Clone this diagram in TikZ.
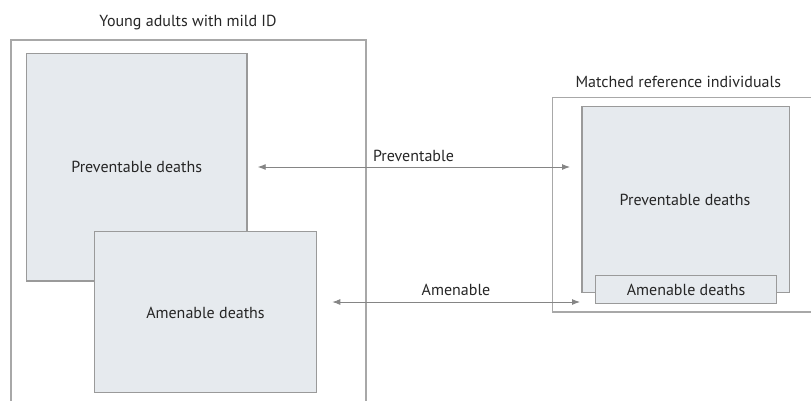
\documentclass[tikz,border=0pt]{standalone}
\usepackage{fontspec}
\setmainfont{PT Sans}
\usetikzlibrary{arrows.meta}
\definecolor{boxfill}{HTML}{E6EAEE}
\definecolor{boxline}{HTML}{9A9A9A}
\definecolor{outerline}{HTML}{A8A8A8}
\definecolor{arrowc}{HTML}{858585}
\definecolor{textc}{HTML}{262626}
\tikzset{
  outerbox/.style={draw=outerline, line width=1.1pt},
  deathbox/.style={draw=boxline, fill=boxfill, line width=1.1pt},
  lbl/.style={text=textc, font=\fontsize{16}{18}\selectfont, inner sep=0pt},
  conn/.style={draw=arrowc, line width=0.9pt, {Latex[length=8pt,width=6pt]}-{Latex[length=8pt,width=6pt]}}
}
\begin{document}
\begin{tikzpicture}[x=1pt,y=-1pt]
\useasboundingbox (0,0) rectangle (811,400);
\clip (0,0) rectangle (811,400);
% left group
\draw[outerbox] (11,40) rectangle (366,420);
\node[lbl] (ltitle) at (188,23) {Young adults with mild ID};
\draw[deathbox] (26.7,53.3) rectangle (247,281);
\node[lbl] (lprev) at (136.7,167) {Preventable deaths};
\draw[deathbox] (94.7,231.7) rectangle (316.3,392.7);
\node[lbl] (lamen) at (205.5,312.5) {Amenable deaths};
% right group
\draw[outerbox] (552.7,97.3) rectangle (830,312);
\node[lbl] (rtitle) at (678.3,82) {Matched reference individuals};
\draw[deathbox] (582,106.7) rectangle (789.3,292.3);
\node[lbl] (rprev) at (685,199.5) {Preventable deaths};
\draw[deathbox] (595.3,275.7) rectangle (776.7,303.3);
\node[lbl] (ramen) at (686,289.5) {Amenable deaths};
% connectors
\coordinate (p1) at (257.7,167);
\coordinate (p2) at (570,167);
\coordinate (a1) at (332.3,302);
\coordinate (a2) at (580,302);
\draw[conn] (p1) -- (p2);
\draw[conn] (a1) -- (a2);
\node[lbl] (plbl) at (413.5,156) {Preventable};
\node[lbl] (albl) at (456,290) {Amenable};
\end{tikzpicture}
\end{document}
